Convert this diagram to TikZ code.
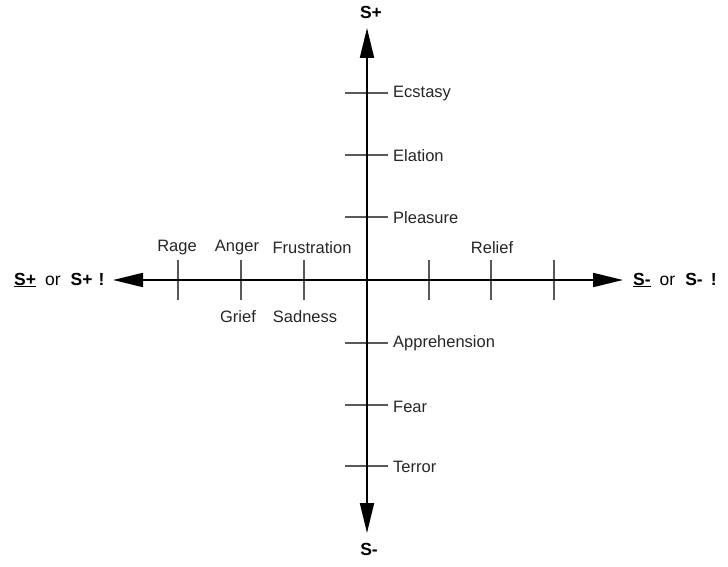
\documentclass[tikz,border=0pt]{standalone}
\usepackage{fontspec}
\setmainfont{Liberation Sans}
\usetikzlibrary{arrows.meta}
\begin{document}
\begin{tikzpicture}[x=1pt,y=-1pt,
  axis/.style={line width=2pt, -{Triangle[length=30pt,width=14pt]}},
  tick/.style={draw=black!65, line width=1.4pt},
  lbl/.style={font=\fontsize{16.5}{19}\selectfont, text=black!85, inner sep=0pt},
  blbl/.style={font=\fontsize{17.5}{20}\selectfont\bfseries, inner sep=0pt}]
\useasboundingbox (0,0) rectangle (728,567);
\coordinate (O) at (367,280);
\coordinate (L) at (113,280);
\coordinate (R) at (623,280);
\coordinate (T) at (367,28);
\coordinate (B) at (367,533);
% ticks horizontal
\foreach \x/\n in {178/h1,241/h2,304/h3,429/h4,491/h5,554/h6}{
  \coordinate (\n a) at (\x,260); \coordinate (\n b) at (\x,300);
  \draw[tick] (\n a) -- (\n b);
}
% ticks vertical
\foreach \y/\n in {93/v1,155/v2,217/v3,343/v4,405/v5,466/v6}{
  \coordinate (\n a) at (345,\y); \coordinate (\n b) at (388,\y);
  \draw[tick] (\n a) -- (\n b);
}
\draw[axis] (O) -- (L);
\draw[axis] (O) -- (R);
\draw[axis] (O) -- (T);
\draw[axis] (O) -- (B);
% vertical labels
\node[lbl, anchor=west] (ecs) at (393,94) {Ecstasy};
\node[lbl, anchor=west] (ela) at (393,156) {Elation};
\node[lbl, anchor=west] (ple) at (393,218) {Pleasure};
\node[lbl, anchor=west] (app) at (393,343) {Apprehension};
\node[lbl, anchor=west] (fea) at (393,407) {Fear};
\node[lbl, anchor=west] (ter) at (393,467) {Terror};
% horizontal labels
\node[lbl] (rag) at (177,248) {Rage};
\node[lbl] (ang) at (237,248) {Anger};
\node[lbl] (fru) at (312,248) {Frustration};
\node[lbl] (rel) at (492,248) {Relief};
\node[lbl] (gri) at (238,317) {Grief};
\node[lbl] (sad) at (305,317) {Sadness};
% axis end labels
\node[blbl] (sp) at (371,12) {S+};
\node[blbl] (sm) at (369,549) {S-};
\node[blbl, anchor=west] (lft) at (14,280) {\underline{S+}\hspace{9pt}{\mdseries or}\hspace{10pt}S+\hspace{6pt}!};
\node[blbl, anchor=west] (rgt) at (633,280) {\underline{S-}\hspace{9pt}{\mdseries or}\hspace{10pt}S-\hspace{8pt}!};
\end{tikzpicture}
\end{document}
